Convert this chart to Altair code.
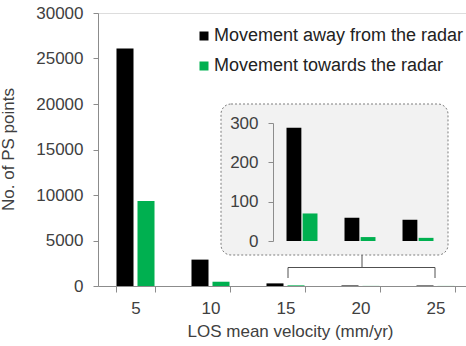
import altair as alt
import pandas as pd

categories = ["5", "10", "15", "20", "25"]
away = [26100, 2900, 288, 59, 54]
towards = [9350, 470, 70, 10, 8]
inset_categories = ["15", "20", "25"]
inset_away = [288, 59, 54]
inset_towards = [70, 10, 8]
series = ["Movement away from the radar", "Movement towards the radar"]
y_ticks = [0, 5000, 10000, 15000, 20000, 25000, 30000]
inset_ticks = [0, 100, 200, 300]

main_df = pd.DataFrame({
    "velocity": categories * 2,
    "series": [series[0]] * len(categories) + [series[1]] * len(categories),
    "count": away + towards,
})
inset_df = pd.DataFrame({
    "velocity": inset_categories * 2,
    "series": [series[0]] * len(inset_categories) + [series[1]] * len(inset_categories),
    "count": inset_away + inset_towards,
})

FONT = "Liberation Sans"
TEXT = "#404040"
AXIS = "#8c8c8c"

color = alt.Color(
    "series:N",
    sort=series,
    scale=alt.Scale(domain=series, range=["#000000", "#00b050"]),
    legend=alt.Legend(
        title=None, orient="none", legendX=97, legendY=14,
        symbolType="square", symbolSize=81, symbolStrokeWidth=0,
        labelFontSize=18, labelFont=FONT, labelColor="#222222",
        labelOffset=1, rowPadding=12, labelLimit=400,
    ),
)

main = alt.Chart(main_df).mark_bar().encode(
    x=alt.X(
        "velocity:N", sort=categories,
        scale=alt.Scale(range=[0, 375], paddingInner=0.493, paddingOuter=0.2465),
        axis=alt.Axis(
            title="LOS mean velocity (mm/yr)", labelAngle=0, tickBand="extent",
            tickSize=6, labelPadding=8, domainColor=AXIS, tickColor=AXIS,
            labelColor=TEXT, labelFontSize=17, labelFont=FONT,
            titleFontSize=17, titleFont=FONT, titleFontWeight="normal",
            titleColor=TEXT, titleBaseline="alphabetic", titleY=50, titleX=192,
        ),
    ),
    xOffset=alt.XOffset("series:N", sort=series, scale=alt.Scale(paddingInner=0.19)),
    y=alt.Y(
        "count:Q", scale=alt.Scale(domain=[0, 30000]),
        axis=alt.Axis(
            values=y_ticks, format="d", title="No. of PS points", grid=False, tickSize=5,
            labelPadding=10, domainColor=AXIS, tickColor=AXIS,
            labelColor=TEXT, labelFontSize=17, labelFont=FONT,
            titleFontSize=17, titleFont=FONT, titleFontWeight="normal",
            titleColor=TEXT, titleBaseline="alphabetic", titleX=-85, titleY=136,
        ),
    ),
    color=color,
)

box = alt.Chart(pd.DataFrame({"k": [0]})).mark_rect(
    cornerRadius=10, fill="#f2f2f2", stroke="#7f7f7f",
    strokeDash=[2, 2], strokeWidth=1,
).encode(
    x=alt.value(123), x2=alt.value(350), y=alt.value(91), y2=alt.value(242)
)

inset = alt.Chart(inset_df).mark_bar().encode(
    x=alt.X(
        "velocity:N", sort=inset_categories,
        scale=alt.Scale(range=[175, 349], paddingInner=0.466, paddingOuter=0.233),
        axis=None,
    ),
    xOffset=alt.XOffset("series:N", sort=series, scale=alt.Scale(paddingInner=0.08)),
    y=alt.Y(
        "count:Q", scale=alt.Scale(domain=[0, 300], range=[228, 110]),
        axis=alt.Axis(
            orient="left", offset=-175, values=inset_ticks, format="d", title=None,
            grid=False, tickSize=5, labelPadding=10, domainColor=AXIS,
            tickColor=AXIS, labelColor=TEXT, labelFontSize=17, labelFont=FONT,
            zindex=2,
        ),
    ),
    color=alt.Color("series:N", sort=series,
                    scale=alt.Scale(domain=series, range=["#000000", "#00b050"]),
                    legend=None),
)

BR = "#505050"
bracket_h = alt.Chart(pd.DataFrame({"k": [0]})).mark_rule(color=BR, strokeWidth=1).encode(
    x=alt.value(190), x2=alt.value(337), y=alt.value(254.5)
)
bracket_l = alt.Chart(pd.DataFrame({"k": [0]})).mark_rule(color=BR, strokeWidth=1).encode(
    x=alt.value(190), y=alt.value(254.5), y2=alt.value(265)
)
bracket_r = alt.Chart(pd.DataFrame({"k": [0]})).mark_rule(color=BR, strokeWidth=1).encode(
    x=alt.value(337), y=alt.value(254.5), y2=alt.value(265)
)
bracket_c = alt.Chart(pd.DataFrame({"k": [0]})).mark_rule(color=BR, strokeWidth=1).encode(
    x=alt.value(264), y=alt.value(242), y2=alt.value(254.5)
)

chart = alt.layer(
    main, box, inset, bracket_h, bracket_l, bracket_r, bracket_c
).resolve_scale(
    x="independent", y="independent", xOffset="independent"
).properties(
    width=368, height=273,
    autosize=alt.AutoSizeParams(type="none"),
    padding={"left": 98, "top": 13, "right": 0, "bottom": 60},
    background="white",
).configure_view(stroke=None).configure(font=FONT)

chart.save("out.html", embed_options={"renderer": "svg", "actions": False})
